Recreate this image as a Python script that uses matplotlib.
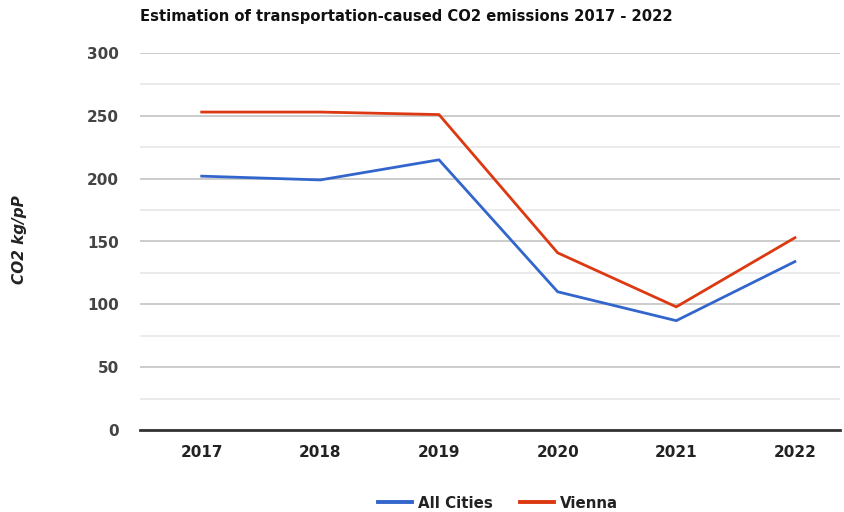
import numpy as np
import matplotlib
matplotlib.use("Agg")
import matplotlib.pyplot as plt
from matplotlib.ticker import MultipleLocator

plt.rcParams["font.family"] = ["DejaVu Sans"]

years = ["2017", "2018", "2019", "2020", "2021", "2022"]
all_cities = [202, 199, 215, 110, 87, 134]
vienna = [253, 253, 251, 141, 98, 153]

blue = "#3366cc"
red = "#dc3912"
txt = "#444444"

fig = plt.figure(figsize=(8.45, 5.12), dpi=100)
ax = fig.add_axes([140 / 845, 82 / 512, 700 / 845, 377 / 512])

x = np.arange(len(years))
ax.plot(x, all_cities, color=blue, lw=2.0, label="All Cities")
ax.plot(x, vienna, color=red, lw=2.0, label="Vienna")

ax.set_xlim(-0.52, 5.38)
ax.set_ylim(0, 300)
ax.yaxis.set_major_locator(MultipleLocator(50))
ax.yaxis.set_minor_locator(MultipleLocator(25))
ax.grid(which="major", axis="y", color="#cccccc", lw=1.4)
ax.grid(which="minor", axis="y", color="#ebebeb", lw=1.4)
ax.axhline(0, color="#333333", lw=2.0, zorder=3, clip_on=False)
ax.set_axisbelow(True)
for s in ax.spines.values():
    s.set_visible(False)

ax.set_xticks(x)
ax.set_xticklabels(years)
ax.tick_params(axis="both", which="both", length=0)
ax.tick_params(axis="x", pad=11)
ax.tick_params(axis="y", pad=15)
for lab in ax.get_xticklabels():
    lab.set_fontweight("bold")
    lab.set_fontsize(11)
    lab.set_color("#222222")
for lab in ax.get_yticklabels():
    lab.set_fontweight("bold")
    lab.set_fontsize(11)
    lab.set_color(txt)

fig.text(140 / 845, 1 - 17 / 512, "Estimation of transportation-caused CO2 emissions 2017 - 2022",
         fontsize=10.6, fontweight="bold", color="#111111", va="center", ha="left")
fig.text(20 / 845, 1 - 240 / 512, "CO2 kg/pP", rotation=90, fontsize=11,
         fontweight="bold", fontstyle="italic", color="#222222", va="center", ha="center")

leg = fig.legend(loc="center", bbox_to_anchor=(498 / 845, 1 - 503 / 512), ncol=2,
                 frameon=False, handlelength=2.3, handletextpad=0.4, columnspacing=1.75,
                 prop={"weight": "bold", "size": 10.8})
for t in leg.get_texts():
    t.set_color("#222222")
for h in leg.legend_handles:
    h.set_linewidth(2.8)

fig.savefig("out.png", dpi=100)
